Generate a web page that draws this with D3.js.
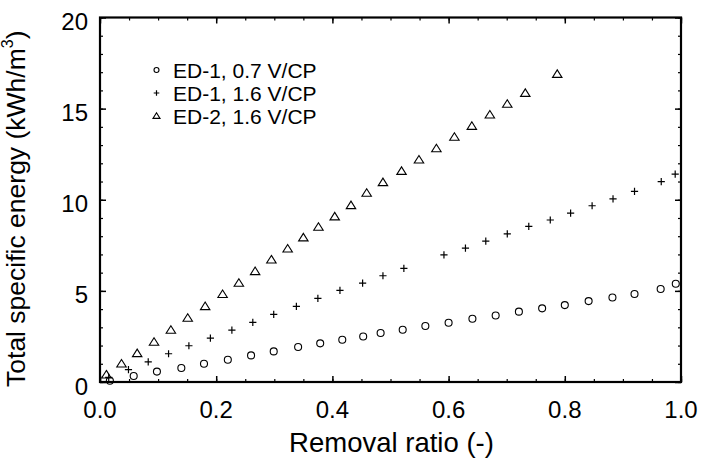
<!DOCTYPE html>
<html><head><meta charset="utf-8">
<script src="https://cdn.jsdelivr.net/npm/d3@7/dist/d3.min.js"></script>
<style>body{margin:0;background:#fff}svg{display:block}text{font-family:"Liberation Sans",Arial,sans-serif;fill:#000}</style>
</head><body><div id="chart"></div>
<script>
const xTicks = [0.0, 0.2, 0.4, 0.6, 0.8, 1.0];
const yTicks = [0, 5, 10, 15, 20];
const seriesNames = ["ED-1, 0.7 V/CP", "ED-1, 1.6 V/CP", "ED-2, 1.6 V/CP"];
const ed1Low = [[0.017,0.07],[0.058,0.33],[0.098,0.57],[0.14,0.77],[0.179,1.0],[0.22,1.22],[0.26,1.46],[0.299,1.68],[0.341,1.92],[0.379,2.12],[0.417,2.32],[0.453,2.50],[0.483,2.69],[0.521,2.87],[0.56,3.07],[0.60,3.25],[0.641,3.47],[0.681,3.65],[0.721,3.86],[0.761,4.04],[0.80,4.22],[0.841,4.44],[0.882,4.64],[0.92,4.83],[0.965,5.10],[0.991,5.39]];
const ed1High = [[0.015,0.25],[0.049,0.68],[0.083,1.10],[0.118,1.55],[0.153,1.99],[0.19,2.41],[0.227,2.85],[0.263,3.27],[0.299,3.71],[0.338,4.15],[0.375,4.59],[0.413,5.03],[0.452,5.43],[0.487,5.83],[0.523,6.23],[0.592,6.97],[0.629,7.35],[0.664,7.73],[0.701,8.13],[0.738,8.54],[0.775,8.89],[0.81,9.27],[0.847,9.67],[0.883,10.05],[0.92,10.46],[0.966,11.0],[0.99,11.41]];
const ed2High = [[0.011,0.40],[0.037,1.0],[0.064,1.57],[0.093,2.19],[0.122,2.85],[0.151,3.51],[0.181,4.15],[0.211,4.81],[0.239,5.43],[0.267,6.07],[0.295,6.71],[0.323,7.31],[0.35,7.92],[0.376,8.50],[0.404,9.07],[0.432,9.69],[0.459,10.37],[0.487,10.95],[0.519,11.57],[0.549,12.19],[0.579,12.81],[0.61,13.44],[0.64,14.04],[0.671,14.66],[0.701,15.25],[0.732,15.85],[0.787,16.89]];

const W = 701, H = 462;
const m = {l:100, r:681, t:17.5, b:382};
const svg = d3.select("#chart").append("svg").attr("width", W).attr("height", H);
const x = d3.scaleLinear().domain([0,1]).range([m.l, m.r]);
const y = d3.scaleLinear().domain([0,20]).range([m.b, m.t]);

const xMinor = d3.range(0, 1.0001, 0.05);
const yMinor = d3.range(0, 20.001, 1);

function addAxis(axisGen, transform, minorVals, majorVals) {
  const gMin = svg.append("g").attr("transform", transform)
    .call(axisGen.tickValues(minorVals).tickSize(-3).tickFormat(""));
  gMin.select(".domain").remove();
  gMin.selectAll("line").attr("stroke","#000").attr("stroke-width",1.2);
  const gMaj = svg.append("g").attr("transform", transform)
    .call(axisGen.tickValues(majorVals).tickSize(-6).tickFormat(""));
  gMaj.select(".domain").remove();
  gMaj.selectAll("line").attr("stroke","#000").attr("stroke-width",1.5);
}
addAxis(d3.axisBottom(x), `translate(0,${m.b})`, xMinor, xTicks);
addAxis(d3.axisTop(x), `translate(0,${m.t})`, xMinor, xTicks);
addAxis(d3.axisLeft(y), `translate(${m.l},0)`, yMinor, yTicks);
addAxis(d3.axisRight(y), `translate(${m.r},0)`, yMinor, yTicks);

svg.append("rect").attr("x", m.l).attr("y", m.t).attr("width", m.r-m.l).attr("height", m.b-m.t)
  .attr("fill","none").attr("stroke","#000").attr("stroke-width",2.2);

svg.append("g").selectAll("text").data(xTicks).join("text")
  .attr("x", d => x(d)).attr("y", m.b + 36).attr("text-anchor","middle")
  .attr("font-size", 24).text(d => d3.format(".1f")(d));
svg.append("g").selectAll("text").data(yTicks).join("text")
  .attr("x", m.l - 12).attr("y", d => y(d) + 12.5).attr("text-anchor","end")
  .attr("font-size", 24).text(d => d);

svg.append("text").attr("x", (m.l+m.r)/2 + 1).attr("y", 452).attr("text-anchor","middle")
  .attr("font-size", 27.5).text("Removal ratio (-)");
const yt = svg.append("text").attr("transform", `translate(25,${(m.t+m.b)/2 + 9}) rotate(-90)`)
  .attr("text-anchor","middle").attr("font-size", 26.5);
yt.append("tspan").text("Total specific energy (kWh/m");
yt.append("tspan").attr("font-size", 16).attr("dy", -12).text("3");
yt.append("tspan").attr("dy", 12).text(")");

function circle(g, cx, cy, r) {
  g.append("circle").attr("cx",cx).attr("cy",cy).attr("r",r).attr("fill","none").attr("stroke","#000").attr("stroke-width",1.1);
}
function plus(g, cx, cy, s) {
  g.append("path").attr("d",`M${cx-s},${cy}H${cx+s}M${cx},${cy-s}V${cy+s}`).attr("stroke","#000").attr("stroke-width",1.2).attr("fill","none");
}
function tri(g, cx, cy, s) {
  g.append("path").attr("d",`M${cx},${cy-s}L${cx+s*1.1},${cy+s*0.75}L${cx-s*1.1},${cy+s*0.75}Z`).attr("stroke","#000").attr("stroke-width",1.1).attr("fill","none");
}
const gp = svg.append("g");
ed1Low.forEach(d => circle(gp, x(d[0]), y(d[1]), 3.5));
ed1High.forEach(d => plus(gp, x(d[0]), y(d[1]), 3.6));
ed2High.forEach(d => tri(gp, x(d[0]), y(d[1]), 4.3));

const lg = svg.append("g");
const lx = 156.5, ly0 = 70, dy = 23;
circle(lg, lx, ly0, 2.5);
plus(lg, lx, ly0 + dy, 2.8);
tri(lg, lx, ly0 + 2*dy, 3.2);
lg.selectAll("text").data(seriesNames).join("text")
  .attr("x", 173).attr("y", (d,i) => ly0 + i*dy + 7.5).attr("font-size", 21).text(d => d);
</script></body></html>
